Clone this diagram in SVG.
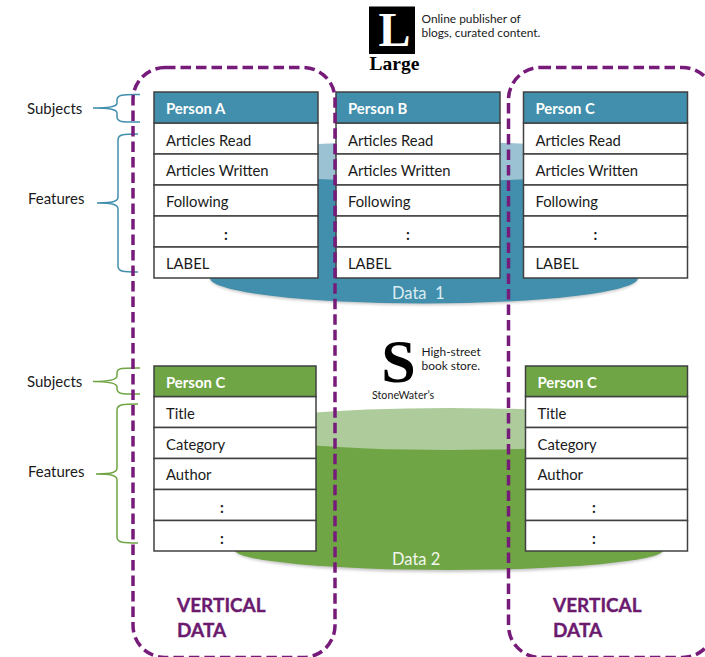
<svg xmlns="http://www.w3.org/2000/svg" width="705" height="657" viewBox="0 0 705 657">
<style>
text{font-family:"Lato","Carlito","Liberation Sans",sans-serif;font-size:14.8px;fill:#1a1a1a}
.cell{fill:#fff;stroke:#404040;stroke-width:1.5}
.hb{fill:#418FAC;stroke:#404040;stroke-width:1.5}
.hg{fill:#6FA544;stroke:#404040;stroke-width:1.5}
.h{fill:#fff;font-weight:700;font-size:14.900px}
.c{text-anchor:middle;font-weight:700}
.lab{font-size:15px}
.small{font-size:11.900px}
.v{font-size:19px;font-weight:700;fill:#6B1A6E;stroke:#6B1A6E;stroke-width:.35}
.dash{fill:none;stroke:#771B7B;stroke-width:3.500;stroke-dasharray:10.500 5}
.bb{fill:none;stroke:#418FAC;stroke-width:1.500}
.bg{fill:none;stroke:#6FA544;stroke-width:1.500}
.serif{font-family:"Liberation Serif",serif;font-weight:700;fill:#000}
</style>
<defs>
<filter id="blur" x="-5%" y="-30%" width="110%" height="160%"><feGaussianBlur stdDeviation="1.5"/></filter>
<g id="rows">
<rect class="cell" x="0" y="31" width="164" height="31"/>
<rect class="cell" x="0" y="62" width="164" height="31"/>
<rect class="cell" x="0" y="93" width="164" height="31"/>
<rect class="cell" x="0" y="124" width="164" height="31"/>
<rect class="cell" x="0" y="155" width="164" height="31"/>
<rect class="hb" x="0" y="0" width="164" height="31"/>
</g>
<g id="rowsg">
<rect class="cell" x="0" y="30.5" width="162" height="31"/>
<rect class="cell" x="0" y="61.5" width="162" height="31"/>
<rect class="cell" x="0" y="92.5" width="162" height="31"/>
<rect class="cell" x="0" y="123.5" width="162" height="31"/>
<rect class="cell" x="0" y="154.5" width="162" height="30.5"/>
<rect class="hg" x="0" y="0" width="162" height="30.5"/>
</g>
</defs>

<g id="cylinder-data1">
<ellipse cx="424" cy="279" rx="214" ry="26" fill="#888" opacity=".5" filter="url(#blur)"/>
<path d="M210 161V278A214 25.5 0 0 0 638 278V161Z" fill="#418FAC"/>
<ellipse cx="424" cy="161.500" rx="214" ry="20" fill="#9AC2D2"/>
<text x="392" y="299" style="font-size:16.500px;fill:#DCECF2;white-space:pre">Data  1</text>
</g>
<g id="cylinder-data2">
<ellipse cx="449" cy="551" rx="214" ry="21" fill="#888" opacity=".5" filter="url(#blur)"/>
<path d="M235 429V550A214 20 0 0 0 663 550V429Z" fill="#6FA544"/>
<ellipse cx="449" cy="429" rx="214" ry="21" fill="#ADCB9B"/>
<text x="392" y="565" style="font-size:16.500px;fill:#F2F7EE">Data 2</text>
</g>

<g id="logo-large">
<rect x="369" y="6.500" width="46" height="47.500" fill="#000"/>
<text class="serif" x="394.500" y="46" text-anchor="middle" style="font-size:48px;fill:#fff">L</text>
<text class="serif" x="369.500" y="70" style="font-size:19.500px">Large</text>
<text class="small" x="421.500" y="23">Online publisher of</text>
<text class="small" x="421.500" y="37">blogs, curated content.</text>
</g>
<g id="logo-stonewater">
<text class="serif" x="398.500" y="381.500" text-anchor="middle" style="font-size:62px">S</text>
<text class="small" x="421.500" y="356">High-street</text>
<text class="small" x="421.500" y="370">book store.</text>
<text x="372" y="399" style="font-size:10.700px">StoneWater’s</text>
</g>

<g id="table-a" transform="translate(154 92)">
<use href="#rows"/>
<text class="h" x="12" y="22">Person A</text>
<text x="12" y="54">Articles Read</text><text x="12" y="84">Articles Written</text><text x="12" y="115">Following</text>
<text class="c" x="72" y="148">:</text><text x="12" y="177">LABEL</text>
</g>
<g id="table-b" transform="translate(336 92)">
<use href="#rows"/>
<text class="h" x="12" y="22">Person B</text>
<text x="12" y="54">Articles Read</text><text x="12" y="84">Articles Written</text><text x="12" y="115">Following</text>
<text class="c" x="72" y="148">:</text><text x="12" y="177">LABEL</text>
</g>
<g id="table-c" transform="translate(523.500 92)">
<use href="#rows"/>
<text class="h" x="12" y="22">Person C</text>
<text x="12" y="54">Articles Read</text><text x="12" y="84">Articles Written</text><text x="12" y="115">Following</text>
<text class="c" x="72" y="148">:</text><text x="12" y="177">LABEL</text>
</g>
<g id="table-c2-left" transform="translate(154 366)">
<use href="#rowsg"/>
<text class="h" x="12" y="22">Person C</text>
<text x="12" y="53">Title</text><text x="12" y="84">Category</text><text x="12" y="114">Author</text>
<text class="c" x="68" y="147">:</text><text class="c" x="68" y="178">:</text>
</g>
<g id="table-c2-right" transform="translate(525.500 366)">
<use href="#rowsg"/>
<text class="h" x="12" y="22">Person C</text>
<text x="12" y="53">Title</text><text x="12" y="84">Category</text><text x="12" y="114">Author</text>
<text class="c" x="68.500" y="147">:</text><text class="c" x="68.500" y="178">:</text>
</g>

<g id="label-subjects-1"><text class="lab" x="27" y="114">Subjects</text></g>
<g id="label-features-1"><text class="lab" x="28" y="204">Features</text></g>
<g id="label-subjects-2"><text class="lab" x="27" y="387">Subjects</text></g>
<g id="label-features-2"><text class="lab" x="28" y="477">Features</text></g>

<g id="connectors">
<path class="bb" d="M140 94.500C124 94.500 117 94 117 100V103C117 106 113 108 93 108C113 108 117 110 117 113V117C117 122.500 124 122 140 122"/>
<path class="bb" d="M138 134C124 134 118 134 118 140V197C118 201 114 203 97 203C114 203 118 205 118 209V266C118 272 124 272 138 272"/>
<path class="bg" d="M140 368C124 368 117 367.500 117 373V376C117 379 113 381.500 93 381.500C113 381.500 117 384 117 387V389C117 394.500 124 394 140 394"/>
<path class="bg" d="M138 404C124 404 117 404 117 410V468C117 472 113 474 96 474C113 474 117 476 117 480V537C117 543 124 543 138 543"/>
<rect class="dash" x="133" y="67.500" width="202" height="590" rx="32"/>
<rect class="dash" x="508.500" y="67.500" width="206" height="590" rx="32"/>
</g>

<g id="label-vertical-left"><text class="v" x="177" y="612">VERTICAL</text><text class="v" x="177" y="637">DATA</text></g>
<g id="label-vertical-right"><text class="v" x="553" y="612">VERTICAL</text><text class="v" x="553" y="637">DATA</text></g>
</svg>
